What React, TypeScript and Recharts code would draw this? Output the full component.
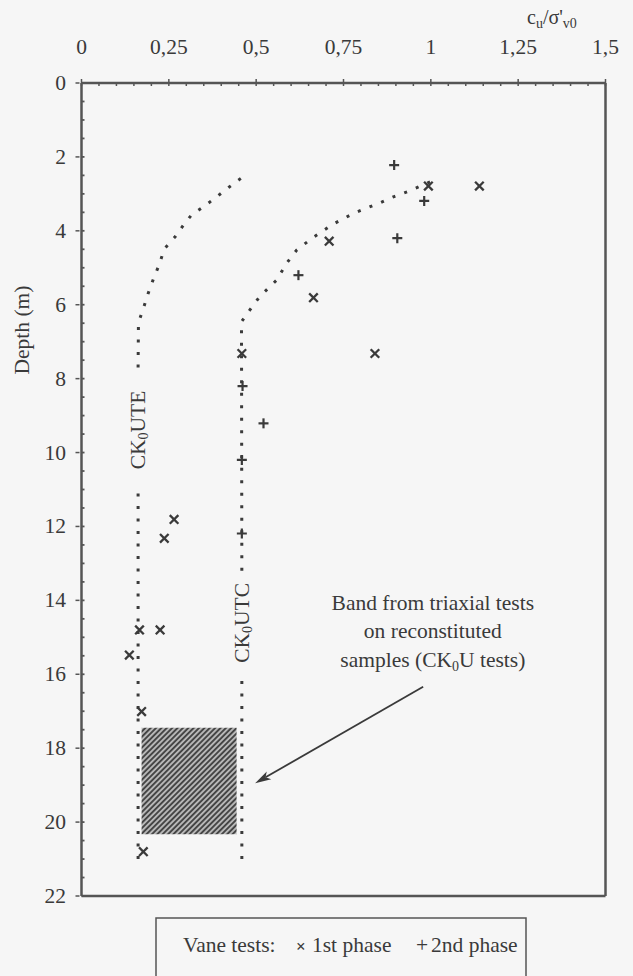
import React from "react";
import {
  ComposedChart,
  XAxis,
  YAxis,
  Line,
  Scatter,
  ReferenceArea,
  ReferenceLine,
  ReferenceDot,
} from "recharts";

// ---------------- data ----------------
const ratioTicks = [0, 0.25, 0.5, 0.75, 1, 1.25, 1.5];
const ratioTickLabels = ["0", "0,25", "0,5", "0,75", "1", "1,25", "1,5"];
const ratioMinorTicks = [
  0, 0.05, 0.1, 0.15, 0.2, 0.25, 0.3, 0.35, 0.4, 0.45, 0.5, 0.55, 0.6, 0.65,
  0.7, 0.75, 0.8, 0.85, 0.9, 0.95, 1, 1.05, 1.1, 1.15, 1.2, 1.25, 1.3, 1.35,
  1.4, 1.45, 1.5,
];
const depthTicks = [0, 2, 4, 6, 8, 10, 12, 14, 16, 18, 20, 22];
const depthMinorTicks = [
  0, 0.5, 1, 1.5, 2, 2.5, 3, 3.5, 4, 4.5, 5, 5.5, 6, 6.5, 7, 7.5, 8, 8.5, 9,
  9.5, 10, 10.5, 11, 11.5, 12, 12.5, 13, 13.5, 14, 14.5, 15, 15.5, 16, 16.5,
  17, 17.5, 18, 18.5, 19, 19.5, 20, 20.5, 21, 21.5, 22,
];

// vane tests [cu/σ'v0, depth m]
const vanePhase1: [number, number][] = [
  [0.993, 2.79],
  [1.139, 2.79],
  [0.709, 4.28],
  [0.664, 5.81],
  [0.459, 7.32],
  [0.84, 7.32],
  [0.265, 11.81],
  [0.237, 12.32],
  [0.166, 14.8],
  [0.225, 14.8],
  [0.137, 15.48],
  [0.172, 17.01],
  [0.177, 20.8],
];
const vanePhase2: [number, number][] = [
  [0.895, 2.22],
  [0.981, 3.19],
  [0.904, 4.2],
  [0.621, 5.2],
  [0.461, 8.2],
  [0.521, 9.21],
  [0.459, 10.2],
  [0.459, 12.19],
];

// CK0UTE trend (split where the label sits)
const ck0uteLower: [number, number][] = [
  [0.162, 21.0],
  [0.162, 10.9],
];
const ck0uteUpper: [number, number][] = [
  [0.162, 7.7],
  [0.163, 6.49],
  [0.177, 6.1],
  [0.191, 5.69],
  [0.206, 5.3],
  [0.223, 4.9],
  [0.237, 4.49],
  [0.268, 4.16],
  [0.293, 3.83],
  [0.315, 3.57],
  [0.352, 3.33],
  [0.387, 3.08],
  [0.422, 2.82],
  [0.459, 2.56],
];
// CK0UTC trend
const ck0utcLower: [number, number][] = [
  [0.459, 21.0],
  [0.459, 16.0],
];
const ck0utcUpper: [number, number][] = [
  [0.459, 13.2],
  [0.458, 6.46],
  [0.482, 6.14],
  [0.51, 5.78],
  [0.559, 5.33],
  [0.587, 4.88],
  [0.616, 4.52],
  [0.66, 4.2],
  [0.72, 3.82],
  [0.78, 3.52],
  [0.855, 3.24],
  [0.893, 3.08],
  [0.933, 2.94],
  [1.012, 2.62],
];

// triaxial band
const bandRatio = [0.172, 0.444];
const bandDepth = [17.45, 20.33];
// annotation arrow
const arrowFrom = [0.978, 16.34];
const arrowTo = [0.497, 18.95];

// ---------------- styling ----------------
const INK = "#3a3a3a";
const AXIS = "#555555";
const FONT = '"Liberation Serif", "Times New Roman", serif';
const FS = 21.5;

const toPts = (arr: [number, number][]) => arr.map(([x, y]) => ({ x, y }));

function XMark(props: any) {
  const { cx, cy } = props;
  if (cx == null || cy == null) return null;
  const s = 4.3;
  return (
    <g stroke={INK} strokeWidth={2.3}>
      <line x1={cx - s} y1={cy - s} x2={cx + s} y2={cy + s} />
      <line x1={cx - s} y1={cy + s} x2={cx + s} y2={cy - s} />
    </g>
  );
}

function PlusMark(props: any) {
  const { cx, cy } = props;
  if (cx == null || cy == null) return null;
  const s = 5;
  return (
    <g stroke={INK} strokeWidth={2.2}>
      <line x1={cx - s} y1={cy} x2={cx + s} y2={cy} />
      <line x1={cx} y1={cy - s} x2={cx} y2={cy + s} />
    </g>
  );
}

// top axis: x,y is the tick position on the axis line
function TopTick(props: any) {
  const { x, y, payload } = props;
  const v = payload.value;
  const i = ratioTicks.findIndex((t) => Math.abs(t - v) < 1e-6);
  const major = i >= 0;
  return (
    <g>
      <line
        x1={x}
        x2={x}
        y1={major ? y - 4 : y}
        y2={y + 3}
        stroke={AXIS}
        strokeWidth={1.5}
      />
      {major && (
        <text
          x={x}
          y={y - 29}
          textAnchor="middle"
          fontFamily={FONT}
          fontSize={FS}
          fill={INK}
        >
          {ratioTickLabels[i]}
        </text>
      )}
    </g>
  );
}

function LeftTick(props: any) {
  const { x, y, payload } = props;
  const v = payload.value;
  const major = depthTicks.some((t) => Math.abs(t - v) < 1e-6);
  return (
    <g>
      {major && (
        <line x1={x - 6} x2={x - 2} y1={y} y2={y} stroke={AXIS} strokeWidth={1.5} />
      )}
      <line x1={x} x2={x + 3} y1={y} y2={y} stroke={AXIS} strokeWidth={1.8} />
      {major && (
        <text
          x={x - 15.5}
          y={y + 7}
          textAnchor="end"
          fontFamily={FONT}
          fontSize={FS}
          fill={INK}
        >
          {String(v)}
        </text>
      )}
    </g>
  );
}

function ArrowShape(p: any) {
  const { x1, y1, x2, y2 } = p;
  if ([x1, y1, x2, y2].some((v) => v == null || isNaN(v))) return null;
  const ang = Math.atan2(y2 - y1, x2 - x1);
  const L = 16;
  const W = 4.5;
  const c = Math.cos(ang);
  const s = Math.sin(ang);
  const bx = x2 - L * c;
  const by = y2 - L * s;
  const nx = -s;
  const ny = c;
  const ix = x2 - 0.75 * L * c;
  const iy = y2 - 0.75 * L * s;
  return (
    <g>
      <line x1={x1} y1={y1} x2={ix} y2={iy} stroke={INK} strokeWidth={1.8} />
      <path
        d={`M${x2},${y2} L${bx + nx * W},${by + ny * W} L${ix},${iy} L${bx - nx * W},${by - ny * W} Z`}
        fill={INK}
      />
    </g>
  );
}

function RotLabel(props: any) {
  const { viewBox, suffix } = props;
  if (!viewBox) return null;
  const cx = viewBox.x + viewBox.width / 2;
  const cy = viewBox.y + viewBox.height / 2;
  return (
    <text
      x={cx}
      y={cy}
      transform={`rotate(-90 ${cx} ${cy})`}
      textAnchor="middle"
      dominantBaseline="central"
      fontFamily={FONT}
      fontSize={FS}
      fill={INK}
    >
      CK
      <tspan fontSize={14} dy={5}>
        0
      </tspan>
      <tspan dy={-5}>{suffix}</tspan>
    </text>
  );
}

function BandNote(props: any) {
  const { viewBox } = props;
  if (!viewBox) return null;
  const cx = viewBox.x + viewBox.width / 2 + 2;
  const cy = viewBox.y + viewBox.height / 2;
  return (
    <g fontFamily={FONT} fontSize={FS} fill={INK} textAnchor="middle">
      <text x={cx} y={cy}>
        Band from triaxial tests
      </text>
      <text x={cx} y={cy + 28.5}>
        on reconstituted
      </text>
      <text x={cx} y={cy + 57}>
        samples (CK
        <tspan fontSize={14} dy={4}>
          0
        </tspan>
        <tspan dy={-4}>U tests)</tspan>
      </text>
    </g>
  );
}

export default function App() {
  return (
    <div
      style={{
        position: "absolute",
        left: 0,
        top: 0,
        width: 633,
        height: 976,
        background: "#f6f6f6",
        overflow: "hidden",
      }}
    >
      <svg width={0} height={0} style={{ position: "absolute" }}>
        <defs>
          <pattern
            id="hatch"
            patternUnits="userSpaceOnUse"
            width={3.8}
            height={3.8}
            patternTransform="rotate(45)"
          >
            <rect width={3.8} height={3.8} fill="#c4c4c4" />
            <line x1={1.9} y1={0} x2={1.9} y2={3.8} stroke="#454545" strokeWidth={2.1} />
          </pattern>
        </defs>
      </svg>
      <ComposedChart
        width={633}
        height={976}
        margin={{ top: 82, right: 26.5, bottom: 79, left: 80.5 }}
      >
        <XAxis
          dataKey="x"
          type="number"
          orientation="top"
          domain={[0, 1.5]}
          ticks={ratioMinorTicks}
          interval={0}
          allowDataOverflow
          height={1}
          axisLine={{ stroke: AXIS, strokeWidth: 2.5 }}
          tickLine={false}
          tickSize={0}
          tickMargin={0}
          tick={<TopTick />}
        />
        <XAxis
          xAxisId="bottom"
          type="number"
          orientation="bottom"
          domain={[0, 1.5]}
          allowDataOverflow
          height={1}
          axisLine={{ stroke: AXIS, strokeWidth: 2.5 }}
          tickLine={false}
          tick={false}
        />
        <YAxis
          dataKey="y"
          type="number"
          reversed
          domain={[0, 22]}
          ticks={depthMinorTicks}
          interval={0}
          allowDataOverflow
          width={1}
          axisLine={{ stroke: AXIS, strokeWidth: 2.5 }}
          tickLine={false}
          tickSize={0}
          tickMargin={0}
          tick={<LeftTick />}
        />
        <YAxis
          yAxisId="right"
          orientation="right"
          type="number"
          reversed
          domain={[0, 22]}
          allowDataOverflow
          width={1}
          axisLine={{ stroke: AXIS, strokeWidth: 2.5 }}
          tickLine={false}
          tick={false}
        />

        <ReferenceArea
          x1={bandRatio[0]}
          x2={bandRatio[1]}
          y1={bandDepth[0]}
          y2={bandDepth[1]}
          fill="url(#hatch)"
          fillOpacity={1}
          stroke="none"
        />

        {[ck0uteLower, ck0uteUpper, ck0utcLower, ck0utcUpper].map((seg, i) => (
          <Line
            key={i}
            data={toPts(seg)}
            dataKey="y"
            type="linear"
            stroke={INK}
            strokeWidth={3}
            strokeDasharray="3 9.5"
            dot={false}
            activeDot={false}
            isAnimationActive={false}
          />
        ))}

        <Scatter
          data={toPts(vanePhase1)}
          shape={(p: any) => <XMark {...p} />}
          isAnimationActive={false}
        />
        <Scatter
          data={toPts(vanePhase2)}
          shape={(p: any) => <PlusMark {...p} />}
          isAnimationActive={false}
        />

        <ReferenceLine
          segment={[
            { x: arrowFrom[0], y: arrowFrom[1] },
            { x: arrowTo[0], y: arrowTo[1] },
          ]}
          shape={(p: any) => <ArrowShape {...p} />}
        />

        <ReferenceDot
          x={ck0uteLower[0][0]}
          y={9.39}
          r={1}
          fill="none"
          stroke="none"
          label={{ content: (lp: any) => <RotLabel {...lp} suffix="UTE" /> }}
        />
        <ReferenceDot
          x={ck0utcLower[0][0]}
          y={14.61}
          r={1}
          fill="none"
          stroke="none"
          label={{ content: (lp: any) => <RotLabel {...lp} suffix="UTC" /> }}
        />
        <ReferenceDot
          x={1.0}
          y={14.26}
          r={1}
          fill="none"
          stroke="none"
          label={{ content: (lp: any) => <BandNote {...lp} /> }}
        />
      </ComposedChart>

      <svg
        width={633}
        height={976}
        style={{ position: "absolute", left: 0, top: 0, pointerEvents: "none" }}
      >
        <g fontFamily={FONT} fill={INK}>
          <text x={527} y={24} fontSize={20}>
            c
            <tspan fontSize={14} dy={4}>
              u
            </tspan>
            <tspan dy={-4}>/σ'</tspan>
            <tspan fontSize={14} dy={4}>
              v0
            </tspan>
          </text>
          <text
            x={22}
            y={330}
            fontSize={FS}
            textAnchor="middle"
            dominantBaseline="central"
            transform="rotate(-90 22 330)"
          >
            Depth (m)
          </text>
        </g>
        <rect
          x={156}
          y={918}
          width={370}
          height={72}
          fill="none"
          stroke={AXIS}
          strokeWidth={1.5}
        />
        <g fontFamily={FONT} fontSize={FS} fill={INK}>
          <text x={183} y={952}>
            Vane tests:
          </text>
          <text x={296} y={952} fontSize={17} fontWeight="bold">
            ×
          </text>
          <text x={312} y={952}>
            1st phase
          </text>
          <text x={416} y={952}>
            +
          </text>
          <text x={431} y={952}>
            2nd phase
          </text>
        </g>
      </svg>
    </div>
  );
}
